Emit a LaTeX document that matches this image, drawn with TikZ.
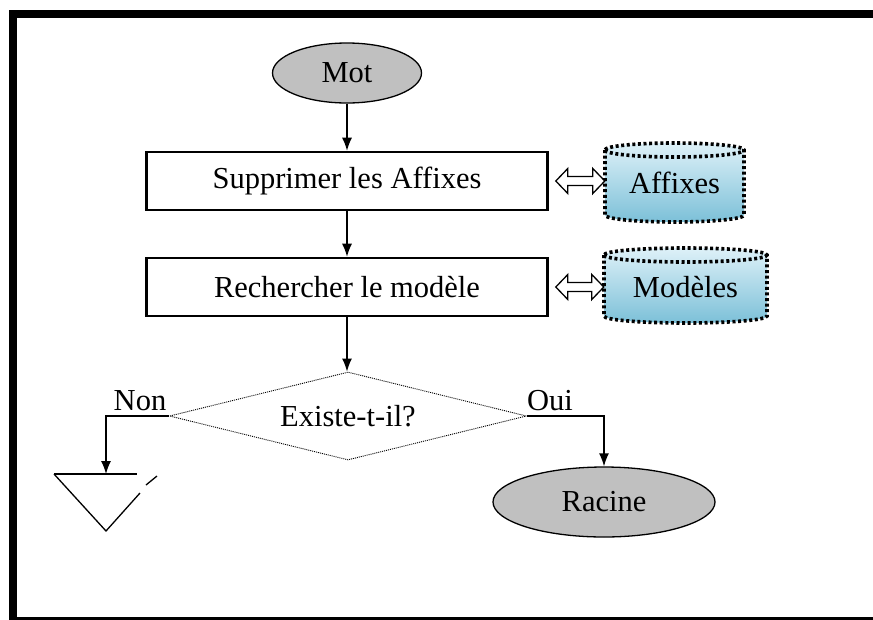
\documentclass[tikz,border=0pt]{standalone}
\usepackage{fontspec}
\setmainfont{Liberation Serif}
\usetikzlibrary{shapes.geometric,arrows.meta,calc}

\definecolor{nodegray}{RGB}{192,192,192}
\definecolor{dbtop}{RGB}{222,241,248}
\definecolor{dbbot}{RGB}{124,192,216}

% hollow two-headed arrow between a process box and a data store
\newcommand{\dbllink}[2]{%
  \draw[line width=1.3pt, fill=white, line join=miter]
    let \p1=($(#1)+(7pt,0)$), \p2=(#2) in
    (\x1,\y1) -- ++(12pt,12.5pt) -- ++(0,-8pt) -- (\x2-12pt,\y1+4.5pt) -- ++(0,8pt)
    -- (\x2,\y1) -- ++(-12pt,-12.5pt) -- ++(0,8pt) -- (\x1+12pt,\y1-4.5pt)
    -- ++(0,-8pt) -- cycle;}

\begin{document}
\begin{tikzpicture}[x=1pt,y=-1pt,
  every node/.style={font=\fontsize{30.5}{36}\selectfont, inner sep=0pt},
  term/.style={ellipse, draw, line width=1.3pt, fill=nodegray},
  proc/.style={rectangle, draw, line width=2.6pt, fill=white,
               minimum width=401pt, minimum height=58pt},
  decide/.style={diamond, draw, line width=0.9pt, dash pattern=on 1pt off 1pt,
                 aspect=4, minimum width=357pt, minimum height=88pt},
  flow/.style={line width=1.3pt, -{Latex[length=13pt,width=10pt]}},
  storefill/.style={top color=dbtop, bottom color=dbbot},
  storeline/.style={line width=3.6pt, dash pattern=on 3pt off 2.6pt},
  thin line/.style={line width=1.3pt}]

\useasboundingbox (0,0) rectangle (873,619);

% open frame (no right side)
\draw[line width=8pt, line join=miter] (873,14) -- (13,14) -- (13,621) -- (873,621);

% data store: Affixes
\path[storefill] (605,150) -- (605,215)
  arc[start angle=180,end angle=360,x radius=69.5pt,y radius=7pt]
  -- (744,150) arc[start angle=0,end angle=180,x radius=69.5pt,y radius=7pt] -- cycle;
\draw[storeline] (605,150) -- (605,215)
  arc[start angle=180,end angle=360,x radius=69.5pt,y radius=7pt]
  -- (744,150) arc[start angle=0,end angle=180,x radius=69.5pt,y radius=7pt] -- cycle;
\draw[storeline] (605,150) arc[start angle=180,end angle=360,x radius=69.5pt,y radius=7pt];

% data store: Modeles
\path[storefill] (604,255) -- (604,316)
  arc[start angle=180,end angle=360,x radius=81.5pt,y radius=7pt]
  -- (767,255) arc[start angle=0,end angle=180,x radius=81.5pt,y radius=7pt] -- cycle;
\draw[storeline] (604,255) -- (604,316)
  arc[start angle=180,end angle=360,x radius=81.5pt,y radius=7pt]
  -- (767,255) arc[start angle=0,end angle=180,x radius=81.5pt,y radius=7pt] -- cycle;
\draw[storeline] (604,255) arc[start angle=180,end angle=360,x radius=81.5pt,y radius=7pt];

% nodes
\node[term, minimum width=149pt, minimum height=60pt] (mot) at (347,73) {Mot};
\node[proc] (b1) at (347,181) {Supprimer les Affixes};
\node[proc] (b2) at (347,287) {Rechercher le modèle};
\node[minimum width=139pt, minimum height=40pt] (aff) at (674.5,183) {Affixes};
\node[minimum width=163pt, minimum height=40pt] (mod) at (685.5,287) {Modèles};
\node[decide] (dec) at (348,416) {Existe-t-il?};
\node[term, minimum width=222pt, minimum height=70pt] (rac) at (604,502) {Racine};

% sink symbol of the "Non" branch
\coordinate (sink) at (106,474);
\draw[thin line] (54,474) -- (137,474);
\draw[thin line] (54,474) -- (106,531) -- (140,493);
\draw[thin line] (146,485) -- (157,476);

% main flow
\draw[flow] (mot.south) -- (mot.south |- b1.north);
\draw[flow] (b1.south) -- (b2.north);
\draw[flow] (b2.south) -- (b2.south |- dec.north);

% store links
\dbllink{b1.east}{aff.west}
\dbllink{b2.east}{mod.west}

% decision branches
\draw[flow] (dec.west) -| (sink);
\draw[flow] (dec.east) -| (rac.north);
\node (non) at (140,401) {Non};
\node (oui) at (550,401) {Oui};
\end{tikzpicture}
\end{document}
